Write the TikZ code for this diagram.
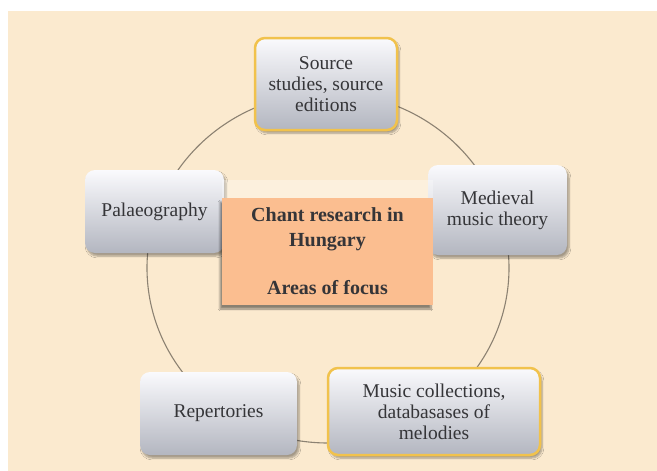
\documentclass[tikz,border=0pt]{standalone}
\usepackage{fontspec}
\setmainfont{Liberation Serif}
\usetikzlibrary{shadows.blur}
\definecolor{bg}{HTML}{FBEACF}
\definecolor{ring}{HTML}{8C8272}
\definecolor{boxtop}{HTML}{FAFAFD}
\definecolor{boxbot}{HTML}{B3B6C0}
\definecolor{gold}{HTML}{F1C24C}
\definecolor{orangebox}{HTML}{FBBE90}
\definecolor{txt}{HTML}{353538}
\begin{document}
\begin{tikzpicture}[x=1pt,y=-1pt,
  box/.style={rectangle, rounded corners=10pt, top color=boxtop, bottom color=boxbot,
    text=txt, align=center, inner sep=0pt,
    font=\fontsize{19.5}{21}\selectfont,
    blur shadow={shadow xshift=2pt, shadow yshift=-3pt, shadow blur steps=6, shadow opacity=35}},
  goldbox/.style={draw=gold, line width=2.5pt},
  centerbox/.style={rectangle, fill=orangebox, text=txt, align=center, inner sep=0pt,
    font=\bfseries\fontsize{20}{24.5}\selectfont,
    blur shadow={shadow xshift=-2pt, shadow yshift=-4pt, shadow blur steps=8, shadow opacity=45}}]
\useasboundingbox (0,0) rectangle (657,471);
\fill[white] (0,0) rectangle (657,471);
\fill[bg] (8,11) rectangle (657,471);
\draw[ring, line width=1.1pt] (328,268) ellipse [x radius=181pt, y radius=175pt];

\node[box, goldbox, minimum width=142pt, minimum height=92pt] (src) at (326,84)
  {Source\\studies, source\\editions};
\node[box, minimum width=139pt, minimum height=83pt] (pal) at (154.5,211.5)
  {Palaeography};
\node[box, minimum width=139pt, minimum height=90pt] (med) at (497.5,210)
  {Medieval\\music theory};
\node[box, minimum width=157pt, minimum height=83pt] (rep) at (218.5,413.5)
  {Repertories};
\node[box, goldbox, minimum width=212pt, minimum height=87pt] (mus) at (434,411.5)
  {Music collections,\\databasases of\\melodies};

\fill[white, opacity=0.3] (222,180) rectangle (433,198);
\node[centerbox, minimum width=211pt, minimum height=107pt] (ctr) at (327.5,251.5)
  {Chant research in\\Hungary\\[24pt]Areas of\ focus};
\end{tikzpicture}
\end{document}
